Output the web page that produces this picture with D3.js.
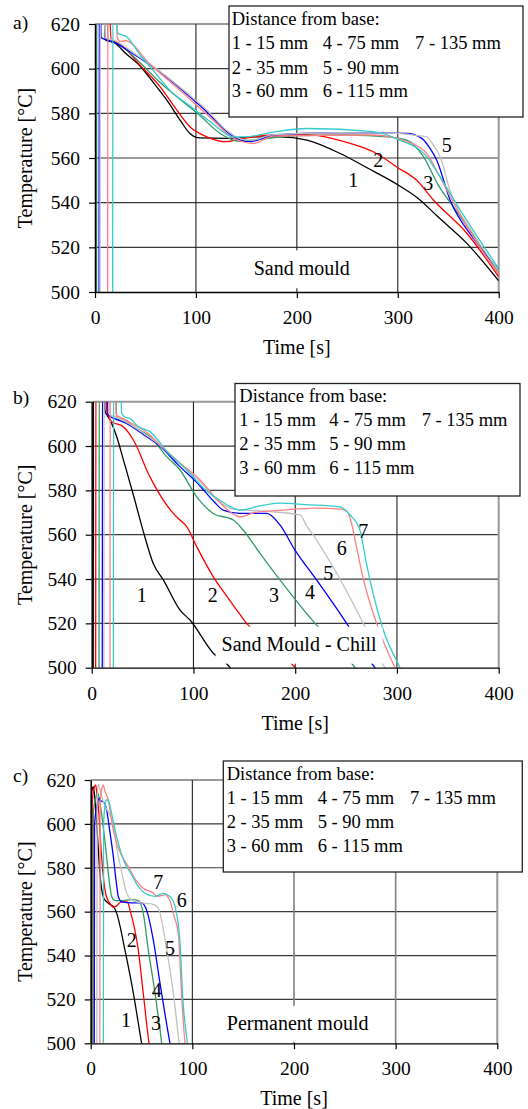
<!DOCTYPE html>
<html>
<head>
<meta charset="utf-8">
<script src="https://cdn.jsdelivr.net/npm/d3@7"></script>
<style>
  body { margin: 0; background: #fff; }
  svg { display: block; }
  text { font-family: "Liberation Serif", "Times New Roman", serif; fill: #000; }
</style>
</head>
<body>
<svg id="chart" width="528" height="1109"></svg>
<script>
// ticks
const xTicks = [0, 100, 200, 300, 400]
const yTicks = [500, 520, 540, 560, 580, 600, 620]

// 1..7 = distance from base
const seriesNames = ["1", "2", "3", "4", "5", "6", "7"]
const seriesColors = ["#000000", "#ff0000", "#339966", "#0000ff", "#c0c0c0", "#ff8080", "#33cccc"]
const legendTitle = "Distance from base:"
const legendCols = [
  ["1 - 15 mm", "2 - 35 mm", "3 - 60 mm"],
  ["4 - 75 mm", "5 - 90 mm", "6 - 115 mm"],
  ["7 - 135 mm"]
]

// a) sand mould  [time s, temperature °C]
const a1 = [[0,495],[0.3,660],[8,660],[10,613],[20,611.4],[30,607],[45,601],[60,592.5],[71,586],[85,576.5],[94,571],[104,569],[130,568.8],[160,569.5],[183,569.5],[210,568],[243,562],[270,555.5],[300,548],[320,542],[339,534],[368,522],[400,505]]
const a2 = [[0.5,495],[0.8,660],[12,660],[16,613],[25,611],[44.6,601.6],[64.4,592],[81,581.5],[94,574],[110.7,569.5],[130.5,567.3],[143.7,568.5],[176.7,570.3],[210,570.5],[252.7,566.6],[275.8,562.8],[299,556],[318.8,550],[335.3,541.2],[368.4,526.3],[400,506.8]]
const a3 = [[1.5,495],[1.8,660],[10,660],[13,613],[25,610.5],[45,602.5],[64,594],[85,586],[104,579],[124,571],[143.7,567.5],[165,568.5],[200,570],[250,570.3],[290,569.5],[308.9,568],[325.4,560.6],[340,548],[355,538.2],[380,522],[400,508.4]]
const a4 = [[4,495],[4.3,660],[5,660],[6,614],[18,612],[40,606],[64,598.6],[90,589],[110.7,580.7],[130,572],[143.7,568],[153.6,567.3],[176.7,570.3],[242.8,571.3],[308.9,571],[323.8,568.8],[332,564.3],[338.6,559],[351.8,541.2],[375,524],[400,510]]
const a5 = [[5,495],[5.3,660],[8,660],[10,614],[20,612.5],[40,606.5],[64,599],[90,589.5],[110.7,581.5],[130,572.5],[145,568.5],[155,568],[176.7,570.5],[242.8,571.3],[300,571],[320,570],[328.7,569.5],[335,566],[342,560.6],[352,545],[375,526],[400,509.5]]
const a6 = [[12.5,495],[12.8,660],[20,660],[22,614],[25,612.2],[30,612.5],[54.5,602],[85,590],[117,577],[135,569.5],[157,566.5],[176.7,569.8],[275.8,570.3],[309,567.3],[328.7,562],[340,553],[360,536],[380,521],[400,508]]
const a7 = [[17.5,495],[17.8,660],[20,660],[22,617],[23,615.8],[31.4,614.3],[45,606],[60,598],[74,590.4],[95,583],[115,576],[137,569.5],[150,569.5],[176.7,571.6],[209.8,573.2],[275.8,571.8],[302,568],[328.7,560.6],[340,553],[360,538],[380,524],[400,510.5]]

// b) sand mould - chill
const b1 = [[1.5,495],[1.8,660],[11,660],[13,616],[15,614],[18,611.7],[24.6,604.2],[31,594],[40.9,578],[50.7,561.5],[60.5,547],[70.4,539.6],[86.8,526],[96.6,521.5],[119.5,506.5],[136,500],[140,497]]
const b2 = [[3.9,495],[4.2,660],[13,660],[14.7,616],[19.7,611],[31,608.7],[40.9,602.7],[47,597],[54,589.2],[62,582],[70.4,575.6],[80.2,569.6],[86.8,566.6],[93.4,563.6],[103.2,554.6],[119.5,541],[132,532.7],[142.5,526],[152.3,520],[175,510],[199.8,500],[203,498]]
const b3 = [[7.2,495],[7.5,660],[22,660],[24.6,612],[30,612.5],[40,609],[57.3,604.2],[73.7,595.2],[86.8,589.2],[103.2,577.1],[119.5,569.6],[139.2,566.6],[149,562],[165.4,551.6],[185,539.6],[219.5,520],[240,510],[258.8,500],[262,498]]
const b4 = [[10.4,495],[10.7,660],[14,660],[16,614],[22,612.5],[35,610],[50,605.5],[67,600],[85,591.5],[106.5,582],[120,575],[129.3,571.1],[145.8,569.6],[172,569.6],[185,564.4],[199.8,553],[221,539.6],[250.6,520],[278.4,500],[282,498]]
const b5 = [[12,495],[12.3,660],[16,660],[18,614],[25,613],[35,610.5],[50,606],[67,600.5],[85,593],[106.5,584],[125,575],[140,571.5],[175,570.4],[204.7,568.9],[211.3,564],[221,557.6],[240.8,542.6],[266.9,520],[288.3,500],[292,498]]
const b6 = [[18,495],[18.3,660],[22,660],[24,614],[28,613],[40,610],[57.3,605],[67,600.5],[85,593],[106.5,584.7],[125,575],[140,569],[145.8,568],[160,570],[185,571],[220,572],[245,571.5],[251,570.5],[256,564],[260,555],[267,540],[280,520],[298,500],[300,498]]
const b7 = [[21.3,495],[21.6,660],[27,660],[29.5,614.7],[33,613],[37.6,612.5],[45,609],[57.3,606.5],[75,597],[93.4,589.2],[110,581],[129.3,574.5],[145.8,571.1],[165,573],[185,574.2],[210,573.6],[244,572.6],[253.9,568.9],[263.7,562],[270,547],[286.6,517],[303,500],[305,498]]

// c) permanent mould
const c1 = [[0,495],[0.3,612],[1.6,616],[2.6,617],[4,612],[5.5,603],[7,592],[9,578],[10.8,570],[13,566],[15.7,564.5],[20,563],[23,562],[25.6,559.2],[33.7,542.5],[42,522.8],[50.1,500],[52,495]]
const c2 = [[1.3,495],[1.6,610],[3,616],[4.9,617.7],[6,614],[8,605],[10,590],[12,578],[14,570],[17,565],[19,563.8],[22,562],[25,562.5],[30,564.5],[36,564.5],[38.7,560.7],[46.8,542.5],[51.7,522.8],[57.4,500],[59,495]]
const c3 = [[2.3,495],[2.6,605],[5,612],[7,614],[9,610],[12,600],[15,588],[18,575],[20.7,566.8],[24,565],[30,565],[40,565.5],[47,565],[51.7,559.2],[56.7,542.5],[63.3,522.8],[69.8,500],[71,495]]
const c4 = [[3.5,495],[3.8,600],[6,608],[8.2,611.7],[10,610.5],[12.5,610],[15.7,606.3],[19,596],[22.3,585],[25,574],[27.2,566.8],[30.5,564.5],[40,564],[50,564],[55,560.7],[61.6,547],[68.2,527.3],[78,500],[80,495]]
const c5 = [[6,495],[6.3,610],[7.5,618],[10,614],[14,608],[18,605],[22,600],[26,588],[30.5,578],[35,569],[40,565.5],[50,564],[60,563.5],[66,562],[68.2,559.2],[74.8,542.5],[81.3,522.8],[86.9,500],[88,495]]
const c6 = [[9,495],[9.3,610],[11,616],[12.4,617.7],[14,615],[17.3,611],[21,600],[25.6,591],[30,586],[37,580.5],[45,574],[52,570.5],[60,569],[66,567],[73,567.6],[78,565],[82,558],[86.2,550],[89.5,521.2],[92.8,500],[94,495]]
const c7 = [[12.4,495],[12.7,600],[14,608],[15.7,611],[18,610],[20,606],[25.6,594],[33.7,582],[40,577],[46,572],[53.4,568.4],[63.3,567],[71.4,568.3],[76,567.5],[79.7,566],[83,562.3],[87.9,545.6],[90.5,521.2],[95,500],[96,495]]

// curve number labels [name, time, temperature]
const aLabels = [["1",255.9,550.1],["2",280.7,559.1],["3",330.2,548.7],["5",348.5,565.8]]
const bLabels = [["1",49.1,532.8],["2",118.9,532.8],["3",179.2,532.8],["4",214.5,534.3],["5",232.5,542.9],["6",245.7,553.9],["7",266.9,561.5]]
const cLabels = [["7",66.5,573.6],["6",89.5,565.3],["2",40.3,547.1],["5",78,543.3],["4",64.9,524.3],["1",34.7,510.6],["3",64.2,509.1]]

const panels = [
  { tag: "a)", title: "Sand mould", series: [a1,a2,a3,a4,a5,a6,a7], labels: aLabels,
    x0: 95, x1: 498.7, yTop: 24, yBot: 292,
    titleAt: [204.8, 510.6], titleBox: [113, 38], grayV: [],
    legend: { x: 229, y: 6, w: 294, h: 111, cols: [231.7, 322.7, 415], rows: [18, 42, 67, 90] } },
  { tag: "b)", title: "Sand Mould - Chill", series: [b1,b2,b3,b4,b5,b6,b7], labels: bLabels,
    x0: 91.7, x1: 498.7, yTop: 401.7, yBot: 667.7,
    titleAt: [203.8, 510.6], titleBox: [167, 37], grayV: [],
    legend: { x: 235, y: 383.5, w: 285, h: 112.5, cols: [239.3, 329.3, 421.7], rows: [395, 419.3, 443.3, 467.7] } },
  { tag: "c)", title: "Permanent mould", series: [c1,c2,c3,c4,c5,c6,c7], labels: cLabels,
    x0: 90.7, x1: 497.3, yTop: 780, yBot: 1043.3,
    titleAt: [203.6, 509.3], titleBox: [150, 36], grayV: [200, 300],
    legend: { x: 223.3, y: 761, w: 299, h: 111, cols: [226.7, 317.7, 410], rows: [773.3, 797.3, 821.7, 845] } }
]

const svg = d3.select("#chart")

panels.forEach((p, pi) => {
  const x = d3.scaleLinear().domain([0, 400]).range([p.x0, p.x1])
  const y = d3.scaleLinear().domain([500, 620]).range([p.yBot, p.yTop])
  const g = svg.append("g")

  g.append("clipPath").attr("id", "clip" + pi)
    .append("rect")
    .attr("x", p.x0).attr("y", p.yTop)
    .attr("width", p.x1 - p.x0).attr("height", p.yBot - p.yTop)

  // horizontal grid
  g.append("g").selectAll("line").data(yTicks.filter(d => d > 500 && d < 620)).enter()
    .append("line")
    .attr("x1", p.x0).attr("x2", p.x1)
    .attr("y1", d => y(d)).attr("y2", d => y(d))
    .attr("stroke", "#3a3a3a").attr("stroke-width", 1.2)
  // top line
  g.append("line")
    .attr("x1", p.x0).attr("x2", p.x1).attr("y1", y(620)).attr("y2", y(620))
    .attr("stroke", "#999").attr("stroke-width", 2)
  // vertical grid
  g.append("g").selectAll("line").data([100, 200, 300]).enter()
    .append("line")
    .attr("x1", d => x(d)).attr("x2", d => x(d))
    .attr("y1", p.yTop).attr("y2", p.yBot)
    .attr("stroke", d => p.grayV.indexOf(d) >= 0 ? "#808080" : "#222")
    .attr("stroke-width", d => p.grayV.indexOf(d) >= 0 ? 1.6 : 1.1)
  // right border
  g.append("line")
    .attr("x1", x(400)).attr("x2", x(400)).attr("y1", p.yTop).attr("y2", p.yBot)
    .attr("stroke", "#999").attr("stroke-width", 2)

  // curves
  const line = d3.line()
    .x(d => x(d[0])).y(d => y(d[1]))
    .curve(d3.curveMonotoneX)
  g.append("g").attr("clip-path", "url(#clip" + pi + ")")
    .selectAll("path").data(p.series).enter()
    .append("path")
    .attr("d", line)
    .attr("fill", "none")
    .attr("stroke", (d, i) => seriesColors[i])
    .attr("stroke-width", 1.3)

  // axes
  const xAxis = g.append("g")
    .attr("transform", "translate(0," + p.yBot + ")")
    .call(d3.axisBottom(x).tickValues(xTicks).tickSize(6).tickSizeOuter(0).tickPadding(12))
  xAxis.select(".domain").attr("stroke", "#000").attr("stroke-width", 1.3)
  xAxis.selectAll(".tick line").attr("stroke", "#000").attr("stroke-width", 1.2)
  xAxis.selectAll("text").attr("font-size", 19.5).style("font-family", '"Liberation Serif", serif')

  const yAxis = g.append("g")
    .attr("transform", "translate(" + p.x0 + ",0)")
    .call(d3.axisLeft(y).tickValues(yTicks).tickSize(6).tickSizeOuter(0).tickPadding(9))
  yAxis.select(".domain").attr("stroke", "#000").attr("stroke-width", 1.5)
  yAxis.selectAll(".tick line").attr("stroke", "#000").attr("stroke-width", 1.2)
  yAxis.selectAll("text").attr("font-size", 19.5).style("font-family", '"Liberation Serif", serif')

  // title box inside plot
  const tx = x(p.titleAt[0]), ty = y(p.titleAt[1])
  g.append("rect")
    .attr("x", tx - p.titleBox[0] / 2).attr("y", ty - p.titleBox[1] / 2 + 1)
    .attr("width", p.titleBox[0]).attr("height", p.titleBox[1])
    .attr("fill", "#fff")
  g.append("text")
    .attr("x", tx).attr("y", ty + 7)
    .attr("text-anchor", "middle").attr("font-size", 20)
    .text(p.title)

  // curve numbers
  g.append("g").selectAll("text").data(p.labels).enter()
    .append("text")
    .attr("x", d => x(d[1])).attr("y", d => y(d[2]) + 7)
    .attr("text-anchor", "middle").attr("font-size", 20)
    .text(d => d[0])

  // legend box
  const L = p.legend
  g.append("rect")
    .attr("x", L.x).attr("y", L.y).attr("width", L.w).attr("height", L.h)
    .attr("fill", "#fff").attr("stroke", "#222").attr("stroke-width", 1.3)
  g.append("text")
    .attr("x", L.cols[0]).attr("y", L.rows[0] + 6.5)
    .attr("font-size", 18.5).text(legendTitle)
  legendCols.forEach((col, ci) => {
    col.forEach((s, ri) => {
      g.append("text")
        .attr("x", L.cols[ci]).attr("y", L.rows[ri + 1] + 6.5)
        .attr("font-size", 18.5).text(s)
    })
  })

  // panel tag and axis titles
  g.append("text").attr("x", 13).attr("y", p.yTop + 6 - (pi === 0 ? 1 : 4))
    .attr("font-size", 19.5).text(p.tag)
  g.append("text")
    .attr("transform", "translate(" + 32 + "," + ((p.yTop + p.yBot) / 2) + ") rotate(-90)")
    .attr("text-anchor", "middle").attr("font-size", 20)
    .text("Temperature [°C]")
  g.append("text")
    .attr("x", (p.x0 + p.x1) / 2).attr("y", p.yBot + 62)
    .attr("text-anchor", "middle").attr("font-size", 20)
    .text("Time [s]")
})
</script>
</body>
</html>
